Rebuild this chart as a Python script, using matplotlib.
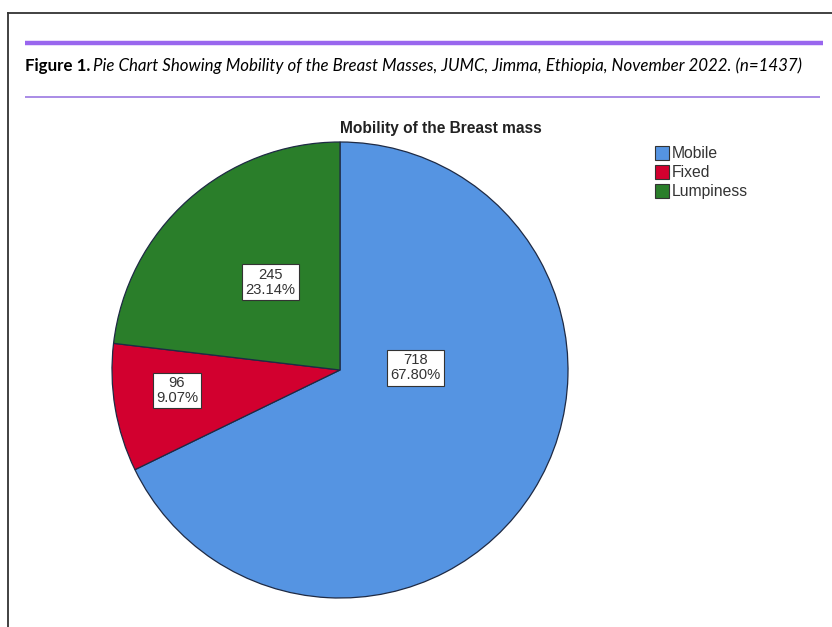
"""
Pie chart of breast mass mobility (SPSS-style) with journal caption banner.
"""

import matplotlib
matplotlib.use("Agg")
import matplotlib.pyplot as plt
from matplotlib.patches import Patch
from matplotlib.lines import Line2D

# ── Data ──────────────────────────────────────────────────────────────────────
categories = ["Mobile", "Fixed", "Lumpiness"]
counts = [718, 96, 245]
colors = ["#5594e2", "#d2002f", "#2a7e2a"]

W, H = 832, 627
fig = plt.figure(figsize=(W / 100, H / 100), dpi=100)
fig.patch.set_facecolor("white")


def px(x, y):
    """pixel coords (top-left origin) -> figure fraction"""
    return x / W, 1 - y / H


# ── Frame + caption banner ────────────────────────────────────────────────────
for (x0, y0), (x1, y1) in [((8, 13), (832, 13)), ((8, 13), (8, 627))]:
    a, b = px(x0, y0)
    c, d = px(x1, y1)
    fig.add_artist(Line2D([a, c], [b, d], color="#333333", lw=1.3))

a, b = px(25, 42.5)
c, _ = px(823, 42.5)
fig.add_artist(Line2D([a, c], [b, b], color="#9966ee", lw=3.2, solid_capstyle="butt"))
a, b = px(25, 97)
c, _ = px(820, 97)
fig.add_artist(Line2D([a, c], [b, b], color="#a98be6", lw=1.4, solid_capstyle="butt"))

cx, cy = px(25, 66)
t1 = fig.text(cx, cy, "Figure 1.", fontsize=12.2, fontweight="bold",
              family="Lato", va="center", ha="left")
fig.canvas.draw()
bb = t1.get_window_extent()
fig.text((bb.x1 + 3) / W, cy,
         "Pie Chart Showing Mobility of the Breast Masses, JUMC, Jimma, Ethiopia, "
         "November 2022. (n=1437)",
         fontsize=12.2, style="italic", family="Lato", va="center", ha="left")

# ── Pie ───────────────────────────────────────────────────────────────────────
R = 228
pcx, pcy = 340, 370
l, b = px(pcx - R, pcy + R)
ax = fig.add_axes([l, b, 2 * R / W, 2 * R / H])
wedges, _ = ax.pie(counts, colors=colors, startangle=90, counterclock=False,
                   radius=1.0, wedgeprops=dict(edgecolor="#1e2a44", linewidth=0.9))
ax.set_xlim(-1, 1)
ax.set_ylim(-1, 1)
ax.set_aspect("equal")
ax.axis("off")

# label placement in pie-radius units (SPSS layout)
label_xy = [(0.33, 0.01), (-0.715, -0.09), (-0.305, 0.385)]
total = sum(counts)
for n, (x, y) in zip(counts, label_xy):
    ax.text(x, y, f"{n}\n{n / total * 100:.2f}%", ha="center", va="center",
            fontsize=10.6, family="Liberation Sans", color="#333333",
            linespacing=1.12,
            bbox=dict(boxstyle="square,pad=0.22", fc="white", ec="#333333", lw=0.8))

tx, ty = px(441, 128)
fig.text(tx, ty, "Mobility of the Breast mass", ha="center", va="center",
         fontsize=11.2, fontweight="bold", family="Liberation Sans", color="#222222")

handles = [Patch(facecolor=c, edgecolor="#333333", lw=0.8) for c in colors]
lx, ly = px(655, 146)
fig.legend(handles, categories, loc="upper left", bbox_to_anchor=(lx, ly),
           frameon=False, handlelength=0.9, handleheight=0.95, handletextpad=0.15,
           labelspacing=0.25, borderpad=0, borderaxespad=0,
           prop=dict(family="Liberation Sans", size=11.3))
for txt in fig.legends[0].get_texts():
    txt.set_color("#333333")

fig.savefig("out.png", dpi=100)
plt.close(fig)
